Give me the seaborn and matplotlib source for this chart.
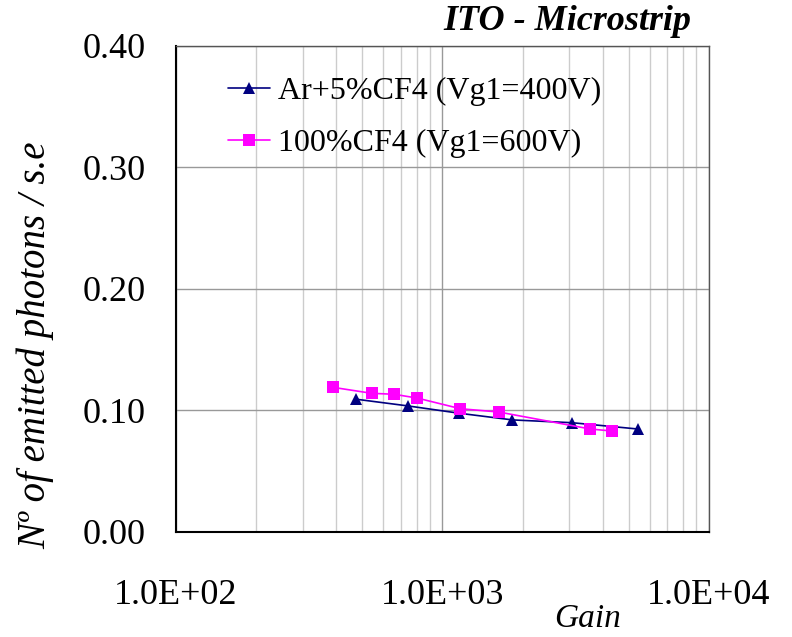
import numpy as np
import pandas as pd
import seaborn as sns
import matplotlib.pyplot as plt
from matplotlib.ticker import LogLocator, MultipleLocator, FixedLocator, FuncFormatter

sns.set_style("white")
plt.rcParams['font.family'] = ['Liberation Serif', 'DejaVu Serif']
plt.rcParams['text.color'] = 'black'
plt.rcParams['axes.labelcolor'] = 'black'
plt.rcParams['xtick.color'] = 'black'
plt.rcParams['ytick.color'] = 'black'

# Measured yield vs. gain for the two gas mixtures
ar_label = "Ar+5%CF4 (Vg1=400V)"
ar_gain = [476, 744, 1157, 1834, 3070, 5430]
ar_photons = [0.109, 0.1035, 0.0975, 0.092, 0.0897, 0.0845]

cf4_label = "100%CF4 (Vg1=600V)"
cf4_gain = [389, 543, 659, 804, 1170, 1629, 3597, 4325]
cf4_photons = [0.1188, 0.1139, 0.1131, 0.110, 0.1012, 0.0985, 0.0845, 0.0829]

x_ticks = [1e2, 1e3, 1e4]
x_tick_labels = ["1.0E+02", "1.0E+03", "1.0E+04"]
y_ticks = [0.0, 0.1, 0.2, 0.3, 0.4]

df = pd.concat([
    pd.DataFrame({"gain": ar_gain, "photons": ar_photons, "series": ar_label}),
    pd.DataFrame({"gain": cf4_gain, "photons": cf4_photons, "series": cf4_label}),
], ignore_index=True)

fig = plt.figure(figsize=(7.92, 6.37), dpi=100)
ax = fig.add_axes([0.2222, 0.1653, 0.6726, 0.7630])

sns.lineplot(data=df, x="gain", y="photons", hue="series", style="series",
             palette={ar_label: "#000080", cf4_label: "#FF00FF"},
             markers={ar_label: "^", cf4_label: "s"},
             dashes={ar_label: "", cf4_label: ""},
             markersize=8, markeredgewidth=0, linewidth=1.2,
             estimator=None, sort=False, ax=ax)

ax.set_xscale("log")
ax.set_xlim(1e2, 1e4)
ax.set_ylim(0, 0.4)

ax.xaxis.set_major_locator(FixedLocator(x_ticks))
ax.xaxis.set_major_formatter(FuncFormatter(lambda v, p: x_tick_labels[x_ticks.index(v)] if v in x_ticks else ""))
ax.xaxis.set_minor_locator(LogLocator(base=10, subs=np.arange(2, 10)))
ax.xaxis.set_minor_formatter(FuncFormatter(lambda v, p: ""))
ax.yaxis.set_major_locator(FixedLocator(y_ticks))
ax.yaxis.set_major_formatter(FuncFormatter(lambda v, p: f"{v:.2f}"))
ax.yaxis.set_minor_locator(MultipleLocator(0.02))

# Grid: vertical lines at every decade subdivision, horizontal at major ticks
ax.grid(which="major", axis="x", color="#999999", linewidth=1.0)
ax.grid(which="minor", axis="x", color="#cccccc", linewidth=1.0)
ax.grid(which="major", axis="y", color="#999999", linewidth=1.0)
ax.set_axisbelow(True)

for side in ["left", "bottom"]:
    ax.spines[side].set_color("black")
    ax.spines[side].set_linewidth(1.5)
for side in ["top", "right"]:
    ax.spines[side].set_color("#555555")
    ax.spines[side].set_linewidth(1.0)

ax.tick_params(axis="x", which="major", direction="inout", length=16, width=1.2,
               color="black", labelcolor="black", labelsize=26, pad=26)
ax.tick_params(axis="y", which="major", direction="out", length=9, width=1.2,
               color="black", labelcolor="black", labelsize=26, pad=13)
ax.tick_params(axis="both", which="minor", direction="in", length=7, width=1.0,
               color="black")

ax.set_xlabel("")
ax.set_ylabel("")
fig.text(36 / 792, 1 - 345 / 637, "Nº of emitted photons / s.e", fontsize=28,
         style="italic", rotation=90, ha="center", va="center", color="black")
fig.text(588 / 792, 1 - 619 / 637, "Gain", fontsize=24, style="italic",
         ha="center", va="center", color="black")
fig.text(691 / 792, 1 - 21 / 637, "ITO - Microstrip", fontsize=26, style="italic",
         weight="bold", ha="right", va="center", color="black")

leg = ax.legend(loc="upper left", bbox_to_anchor=(0.062, 0.976), frameon=False,
                fontsize=23, handlelength=1.3, handletextpad=0.25, labelspacing=0.72,
                borderaxespad=0.2, title=None, labelcolor="black")

fig.savefig("out.png", dpi=100)
